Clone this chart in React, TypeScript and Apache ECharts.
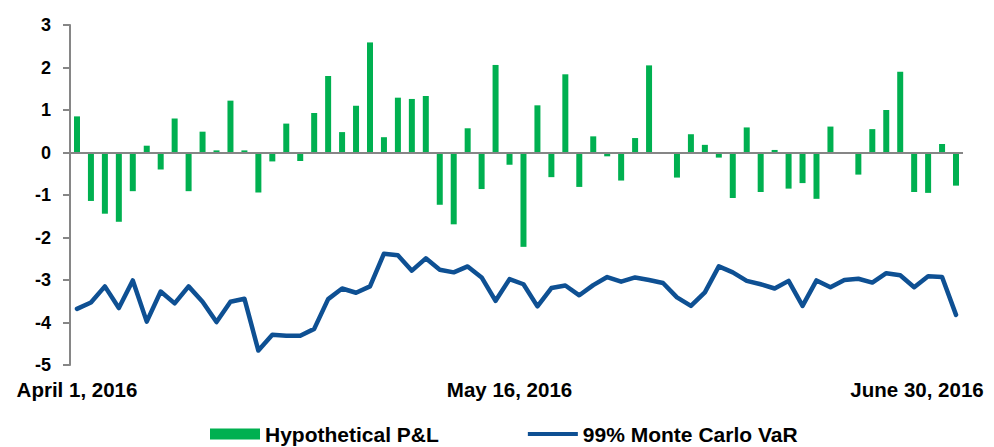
import React, { useEffect, useRef } from "react";
import * as echarts from "echarts";

const categories: string[] = [
  "April 1, 2016", "April 4, 2016", "April 5, 2016", "April 6, 2016", "April 7, 2016", "April 8, 2016",
  "April 11, 2016", "April 12, 2016", "April 13, 2016", "April 14, 2016", "April 15, 2016",
  "April 18, 2016", "April 19, 2016", "April 20, 2016", "April 21, 2016", "April 22, 2016",
  "April 25, 2016", "April 26, 2016", "April 27, 2016", "April 28, 2016", "April 29, 2016",
  "May 2, 2016", "May 3, 2016", "May 4, 2016", "May 5, 2016", "May 6, 2016",
  "May 9, 2016", "May 10, 2016", "May 11, 2016", "May 12, 2016", "May 13, 2016",
  "May 16, 2016", "May 17, 2016", "May 18, 2016", "May 19, 2016", "May 20, 2016",
  "May 23, 2016", "May 24, 2016", "May 25, 2016", "May 26, 2016", "May 27, 2016",
  "May 31, 2016",
  "June 1, 2016", "June 2, 2016", "June 3, 2016",
  "June 6, 2016", "June 7, 2016", "June 8, 2016", "June 9, 2016", "June 10, 2016",
  "June 13, 2016", "June 14, 2016", "June 15, 2016", "June 16, 2016", "June 17, 2016",
  "June 20, 2016", "June 21, 2016", "June 22, 2016", "June 23, 2016", "June 24, 2016",
  "June 27, 2016", "June 28, 2016", "June 29, 2016", "June 30, 2016",
];

const labelledDates: string[] = ["April 1, 2016", "May 16, 2016", "June 30, 2016"];

const hypotheticalPL: number[] = [
  0.85, -1.14, -1.44, -1.63, -0.91, 0.16, -0.4, 0.8, -0.91, 0.49,
  0.05, 1.22, 0.05, -0.94, -0.21, 0.68, -0.2, 0.93, 1.8, 0.48,
  1.1, 2.59, 0.36, 1.29, 1.26, 1.33, -1.23, -1.69, 0.57, -0.86,
  2.06, -0.29, -2.22, 1.11, -0.58, 1.84, -0.81, 0.38, -0.09, -0.66,
  0.34, 2.05, 0.0, -0.59, 0.43, 0.18, -0.12, -1.07, 0.59, -0.93,
  0.06, -0.85, -0.72, -1.09, 0.61, 0.0, -0.52, 0.55, 1.0, 1.9,
  -0.93, -0.95, 0.2, -0.78,
];

const monteCarloVaR: number[] = [
  -3.68, -3.53, -3.15, -3.66, -3.01, -3.98, -3.27, -3.55, -3.15, -3.51,
  -3.99, -3.51, -3.44, -4.66, -4.29, -4.31, -4.31, -4.15, -3.45, -3.2,
  -3.3, -3.15, -2.38, -2.42, -2.78, -2.49, -2.76, -2.82, -2.68, -2.94,
  -3.49, -2.98, -3.1, -3.62, -3.19, -3.13, -3.36, -3.12, -2.93, -3.04,
  -2.94, -3.0, -3.07, -3.41, -3.61, -3.29, -2.68, -2.82, -3.02, -3.1,
  -3.2, -3.02, -3.61, -3.01, -3.17, -3.0, -2.97, -3.06, -2.84, -2.89,
  -3.17, -2.91, -2.93, -3.82,
];

const yTicks = { min: -5, max: 3, interval: 1 };

const FONT = "'Liberation Sans', Arial, sans-serif";

const LINE_ICON = "path://M0,0h0.05v0.05h-0.05z M0,3.5h52v4h-52z M0,10.95h0.05v0.05h-0.05z";

export default function App() {
  const ref = useRef<HTMLDivElement>(null);

  useEffect(() => {
    if (!ref.current) return;
    const chart = echarts.init(ref.current, null, { renderer: "svg" });
    const lastIndex = categories.length - 1;
    chart.setOption({
      animation: false,
      backgroundColor: "#ffffff",
      textStyle: { fontFamily: FONT },
      grid: { left: 70, right: 31, top: 25, bottom: 82, containLabel: false },
      legend: {
        left: 210,
        top: 423,
        padding: 0,
        itemGap: 89,
        itemWidth: 50,
        itemHeight: 11,
        textStyle: { fontSize: 21, fontWeight: "bold", color: "#000", fontFamily: FONT, lineHeight: 22 },
        data: [
          { name: "Hypothetical P&L", icon: "rect" },
          { name: "99% Monte Carlo VaR", icon: LINE_ICON },
        ],
      },
      xAxis: {
        type: "category",
        data: categories,
        boundaryGap: true,
        axisLine: { show: false, onZero: false },
        axisTick: { show: false },
        splitLine: { show: false },
        axisLabel: {
          interval: (index: number, value: string) => labelledDates.includes(value),
          margin: 14,
          fontSize: 20.5,
          fontWeight: "bold",
          color: "#000",
          fontFamily: FONT,
          formatter: (value: string, index: number) =>
            index === lastIndex ? `{r|${value}}` : value,
          rich: {
            r: {
              fontSize: 20.5,
              fontWeight: "bold",
              color: "#000",
              fontFamily: FONT,
              padding: [0, 78, 0, 0],
            },
          },
        },
      },
      yAxis: {
        type: "value",
        min: yTicks.min,
        max: yTicks.max,
        interval: yTicks.interval,
        axisLine: { show: true, lineStyle: { color: "#868686", width: 2 } },
        axisTick: { show: true, length: 7, lineStyle: { color: "#868686", width: 2 } },
        splitLine: { show: false },
        axisLabel: {
          margin: 19,
          fontSize: 18,
          fontWeight: "bold",
          color: "#000",
          fontFamily: FONT,
        },
      },
      series: [
        {
          name: "Hypothetical P&L",
          type: "bar",
          data: hypotheticalPL,
          barWidth: 6,
          itemStyle: { color: "#00B050" },
          markLine: {
            silent: true,
            symbol: ["none", "none"],
            label: { show: false },
            lineStyle: { color: "#868686", width: 2, type: "solid" },
            data: [{ yAxis: 0 }],
          },
        },
        {
          name: "99% Monte Carlo VaR",
          type: "line",
          data: monteCarloVaR,
          symbol: "none",
          lineStyle: { color: "#0E5093", width: 4.5, join: "round", cap: "round" },
          itemStyle: { color: "#0E5093" },
        },
      ],
    });
    return () => chart.dispose();
  }, []);

  return (
    <div
      ref={ref}
      style={{ position: "fixed", left: 0, top: 0, width: 994, height: 447, background: "#fff" }}
    />
  );
}
